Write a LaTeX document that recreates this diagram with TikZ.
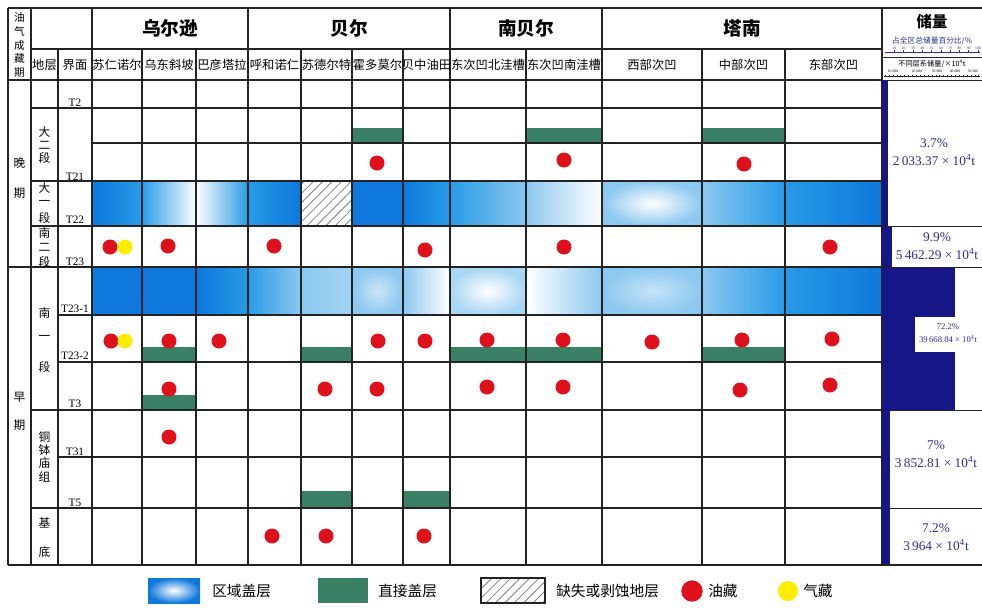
\documentclass[tikz,border=0pt]{standalone}
\usepackage{fontspec}
\setmainfont{Liberation Serif}
\newfontfamily\cjk{Noto Sans CJK SC}
\usetikzlibrary{patterns.meta}
\definecolor{bA}{RGB}{14,120,220}
\definecolor{bB}{RGB}{40,155,230}
\definecolor{bC}{RGB}{140,200,240}
\definecolor{oilred}{RGB}{222,16,28}
\definecolor{gasyel}{RGB}{255,236,0}
\definecolor{capgreen}{RGB}{58,128,100}
\definecolor{navy}{RGB}{22,22,135}
\definecolor{navytxt}{RGB}{45,45,150}
\definecolor{gridc}{RGB}{35,35,35}
\begin{document}
\begin{tikzpicture}[x=0.75pt,y=-0.75pt,
  gline/.style={draw=gridc,line width=1.15pt},
  bline/.style={draw=gridc,line width=1.5pt},
  thinl/.style={draw=gridc,line width=0.7pt},
  oil/.style={circle,fill=oilred,draw=none,inner sep=0pt,minimum size=11.25pt},
  gas/.style={circle,fill=gasyel,draw=none,inner sep=0pt,minimum size=11.25pt},
  capbar/.style={fill=capgreen},
  hatchfill/.style={pattern={Lines[angle=45,distance=5pt,line width=0.6pt]},pattern color=gray},
  hd/.style={font=\cjk\fontsize{14}{14}\selectfont\bfseries, inner sep=0pt},
  sub/.style={font=\cjk\fontsize{9.2}{9.2}\selectfont, inner sep=0pt},
  vch/.style={font=\cjk\fontsize{8.8}{8.8}\selectfont, inner sep=0pt},
  tl/.style={font=\fontsize{8.5}{8.5}\selectfont, inner sep=0pt},
  rv/.style={font=\fontsize{10}{13}\selectfont, text=navytxt, align=center, inner sep=0pt},
  rvs/.style={font=\fontsize{6.5}{10}\selectfont, text=navytxt, align=center, inner sep=0pt},
  lg/.style={font=\cjk\fontsize{11}{11}\selectfont, inner sep=0pt, anchor=west},
  tiny/.style={font=\fontsize{2.8}{3}\selectfont, inner sep=0pt},
]
\useasboundingbox (0,0) rectangle (982,608);
\fill[white] (0,0) rectangle (982,608);

% ---- regional caprock (blue) : row da-yi (181-226)
\shade[left color=bA,right color=bB] (92,181) rectangle (142,226);
\shade[left color=bB,right color=white] (142,181) rectangle (196,226);
\shade[left color=white,right color=bB] (196,181) rectangle (248,226);
\shade[left color=bB,right color=bA] (248,181) rectangle (301,226);
\fill[bA] (352,181) rectangle (403,226);
\shade[left color=bA,right color=bB] (403,181) rectangle (450,226);
\shade[left color=bB,right color=bC] (450,181) rectangle (526,226);
\shade[left color=bC,right color=white] (526,181) rectangle (602,226);
\shade[inner color=white,outer color=bC] (602,181) rectangle (702,226);
\shade[left color=bC,right color=bB] (702,181) rectangle (785,226);
\shade[left color=bB,right color=bA] (785,181) rectangle (882,226);
\fill[white] (301,181) rectangle (352,226);
\fill[hatchfill] (301,181) rectangle (352,226);

% ---- regional caprock : row nan-yi top (267-315)
\fill[bA] (92,267) rectangle (196,315);
\shade[left color=bA,right color=bB] (196,267) rectangle (248,315);
\shade[left color=bB,right color=bC] (248,267) rectangle (301,315);
\shade[left color=bC,right color=bC!80!white] (301,267) rectangle (352,315);
\shade[inner color=bC!45!white,outer color=bC] (352,267) rectangle (403,315);
\shade[left color=bC,right color=white] (403,267) rectangle (450,315);
\shade[inner color=white,outer color=bC!75!white] (450,267) rectangle (526,315);
\shade[left color=white,right color=bC] (526,267) rectangle (602,315);
\shade[inner color=bC!50!white,outer color=bC] (602,267) rectangle (702,315);
\shade[left color=bC,right color=bB] (702,267) rectangle (785,315);
\shade[left color=bB,right color=bA] (785,267) rectangle (882,315);

% ---- direct caprock (green)
\fill[capbar] (352,128) rectangle (403,143);
\fill[capbar] (526,128) rectangle (602,143);
\fill[capbar] (702,128) rectangle (785,143);
\fill[capbar] (142,347) rectangle (196,362);
\fill[capbar] (301,347) rectangle (352,362);
\fill[capbar] (450,347) rectangle (602,362);
\fill[capbar] (702,347) rectangle (785,362);
\fill[capbar] (142,395) rectangle (196,410);
\fill[capbar] (301,491) rectangle (352,508);
\fill[capbar] (403,491) rectangle (450,508);

% ---- grid
\foreach \ya/\xa in {49/31,108/31,143/92,181/31,226/31,315/58,362/58,410/31,457/58,508/31}
  \draw[gline] (\xa,\ya) -- (882,\ya);
\draw[bline] (8,8) -- (982,8);
\draw[bline] (8,80) -- (882,80);
\draw[bline] (8,267) -- (882,267);
\draw[bline] (8,565) -- (982,565);
\foreach \xv in {31,92,248,450,602}
  \draw[gline] (\xv,8) -- (\xv,565);
\foreach \xv in {58,142,196,301,352,403,526,702,785}
  \draw[gline] (\xv,49) -- (\xv,565);
\draw[bline] (8,8) -- (8,565);
\draw[bline] (882,8) -- (882,565);

% ---- oil & gas
\foreach \px/\py [count=\i] in {377/163,564/160,744/164,
  110/247,168/246,274/246,425/250,564/247,830/247,
  111/341,169/341,219/341,378/341,425/341,487/340,563/340,652/342,742/340,832/339,
  169/389,325/389,377/389,487/387,563/387,740/390,830/385,
  169/437,272/536,326/536,424/536}
  \node[oil] (oil\i) at (\px,\py) {};
\node[gas] (gas1) at (125,247) {};
\node[gas] (gas2) at (125,341) {};

% ---- header texts
\node[font=\cjk\fontsize{8}{10.2}\selectfont,align=center,inner sep=0pt] (hq) at (19.5,45) {油\\气\\成\\藏\\期};
\node[hd] (h1) at (170,28) {乌尔逊};
\node[hd] (h2) at (349,28) {贝尔};
\node[hd] (h3) at (526,28) {南贝尔};
\node[hd] (h4) at (742,28) {塔南};
\node[sub] (s0a) at (44.5,65) {地层};
\node[sub] (s0b) at (75,65) {界面};
\node[sub] (s1) at (117,65) {苏仁诺尔};
\node[sub] (s2) at (169,65) {乌东斜坡};
\node[sub] (s3) at (222,65) {巴彦塔拉};
\node[sub] (s4) at (274.5,65) {呼和诺仁};
\node[sub] (s5) at (326.5,65) {苏德尔特};
\node[sub] (s6) at (377.5,65) {霍多莫尔};
\node[sub] (s7) at (426.5,65) {贝中油田};
\node[sub] (s8) at (488,65) {东次凹北洼槽};
\node[sub] (s9) at (564,65) {东次凹南洼槽};
\node[sub] (s10) at (652,65) {西部次凹};
\node[sub] (s11) at (743.5,65) {中部次凹};
\node[sub] (s12) at (833.5,65) {东部次凹};

% ---- period column
\node[vch] (p1) at (19.5,163) {晚};
\node[vch] (p2) at (19.5,193) {期};
\node[vch] (p3) at (19.5,397) {早};
\node[vch] (p4) at (19.5,425) {期};

% ---- strata column
\foreach \c/\yy [count=\k] in {大/132,二/145,段/158,大/188,一/203,段/218,南/233,二/247,段/262,
  南/313,一/338,段/367,铜/437,钵/450,庙/463,组/477,基/523,底/552}
  \node[vch] (st\k) at (44.5,\yy) {\c};

% ---- interface column
\foreach \t/\yy [count=\k] in {T2/103,T21/177,T22/220,T23/262,T23-1/309,T23-2/356,T3/404,T31/452,T5/503}
  \node[tl] (if\k) at (75,\yy) {\t};

% ---- reserves column
\node[font=\cjk\fontsize{11.5}{11.5}\selectfont\bfseries,inner sep=0pt] (rs) at (932,22) {储量};
\node[font=\cjk\fontsize{5.8}{6}\selectfont,text=navytxt,inner sep=0pt] (rp) at (932,41) {占全区总储量百分比/\%};
\draw[navytxt,line width=0.4pt] (885,52) -- (980,52);
\foreach \v [count=\k] in {10,20,30,40,50,60,70,80,90,100}{
  \node[tiny,text=navytxt] (tk\k) at (885+9.3*\k,48) {\v};
  \draw[navytxt,line width=0.4pt] (885+9.3*\k,52) -- (885+9.3*\k,50);
}
\draw[thinl] (882,57) -- (982,57);
\node[font=\cjk\fontsize{5.4}{6}\selectfont,inner sep=0pt] (rq) at (932,64) {不同层系储量/×10\textsuperscript{4}t};
\foreach \v/\xx [count=\k] in {10 000/893,20 000/917,30 000/937,40 000/955,50 000/973}
  \node[tiny] (tq\k) at (\xx,71) {\v};
\draw[gridc,line width=0.5pt] (884,76) -- (980,76);
\foreach \k in {0,...,24}
  \draw[gridc,line width=0.3pt] (885+3.9*\k,76) -- (885+3.9*\k,74.5);

\fill[navy] (882,80) rectangle (887,226);
\fill[navy] (882,226) rectangle (892,267);
\fill[navy] (882,267) rectangle (955,410);
\fill[navy] (882,410) rectangle (890,508);
\fill[navy] (882,508) rectangle (890,565);

\draw[thinl] (887,80) -- (982,80);
\draw[thinl] (887,80) -- (887,226);
\draw[thinl] (882,226) -- (982,226);
\draw[thinl] (882,267) -- (982,267);
\draw[thinl] (890,410) -- (982,410);
\draw[thinl] (890,508) -- (982,508);
\draw[bline] (882,565) -- (982,565);

\node[rv] (r1) at (934,152) {3.7\%\\2\,033.37 × 10\textsuperscript{4}t};
\node[rv] (r2) at (937,246) {9.9\%\\5\,462.29 × 10\textsuperscript{4}t};
\fill[white] (915,317) rectangle (982,352);
\node[rvs] (r3) at (948,333) {72.2\%\\39\,668.84 × 10\textsuperscript{4}t};
\node[rv] (r4) at (936,454) {7\%\\3\,852.81 × 10\textsuperscript{4}t};
\node[rv] (r5) at (936,537) {7.2\%\\3\,964 × 10\textsuperscript{4}t};

% ---- legend
\shade[inner color=white,outer color=bA] (148,578) rectangle (200,603);
\node[lg] (l1) at (212,591) {区域盖层};
\fill[capbar] (318,578) rectangle (368,603);
\node[lg] (l2) at (378,591) {直接盖层};
\fill[hatchfill] (481,578) rectangle (545,603);
\draw[gridc,line width=1pt] (481,578) rectangle (545,603);
\node[lg] (l3) at (556,591) {缺失或剥蚀地层};
\node[oil,minimum size=16pt] (l4c) at (692,591) {};
\node[lg] (l4) at (708,591) {油藏};
\node[gas,minimum size=15pt] (l5c) at (788,591) {};
\node[lg] (l5) at (803,591) {气藏};
\end{tikzpicture}
\end{document}
